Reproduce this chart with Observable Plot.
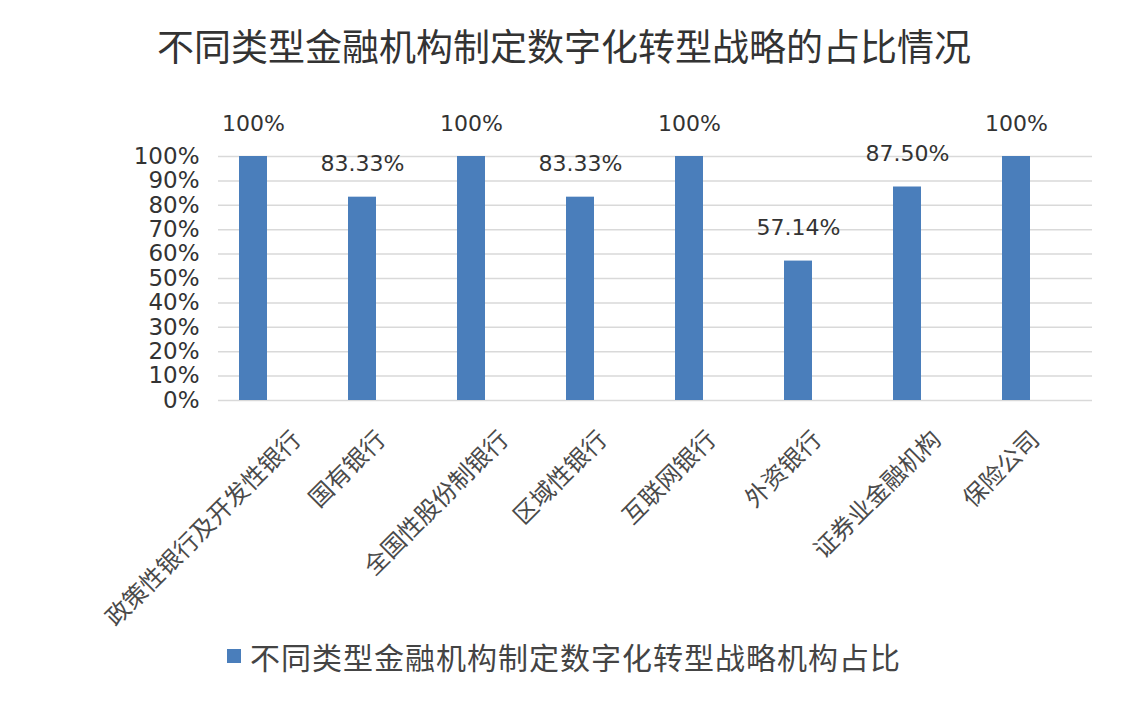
<!DOCTYPE html>
<html>
<head>
<meta charset="utf-8">
<script src="https://cdn.jsdelivr.net/npm/d3@7"></script>
<script src="https://cdn.jsdelivr.net/npm/@observablehq/plot@0.6"></script>
<style>
  html, body { margin: 0; padding: 0; background: #fff; }
  #wrap { width: 1128px; height: 706px; overflow: hidden; background: #fff; }
  #title { height: 90px; line-height: 90px; text-align: center; font-family: "Noto Sans CJK SC", sans-serif; font-size: 37px; color: #333; }
  #legend { height: 52px; display: flex; align-items: center; justify-content: center; font-family: "Noto Sans CJK SC", sans-serif; font-size: 30px; color: #444; letter-spacing: 1px; }
  #legend .sw { width: 14px; height: 14px; margin-right: 9px; }
  #chart svg { display: block; }
</style>
</head>
<body>
<div id="wrap">
  <div id="title"></div>
  <div id="chart"></div>
  <div id="legend"><span class="sw"></span><span id="legtext"></span></div>
</div>
<script>
const title = "不同类型金融机构制定数字化转型战略的占比情况";
const seriesName = "不同类型金融机构制定数字化转型战略机构占比";
const categories = ["政策性银行及开发性银行", "国有银行", "全国性股份制银行", "区域性银行", "互联网银行", "外资银行", "证券业金融机构", "保险公司"];
const values = [100, 83.33, 100, 83.33, 100, 57.14, 87.5, 100];
const valueLabels = ["100%", "83.33%", "100%", "83.33%", "100%", "57.14%", "87.50%", "100%"];
const yTicks = [0, 10, 20, 30, 40, 50, 60, 70, 80, 90, 100];
const barColor = "#4a7ebb";

const data = categories.map((c, i) => ({cat: c, value: values[i], label: valueLabels[i]}));

document.getElementById("title").textContent = title;
document.getElementById("legtext").textContent = seriesName;
document.querySelector("#legend .sw").style.background = barColor;

const chart = Plot.plot({
  width: 1128,
  height: 540,
  marginLeft: 198,
  marginRight: 56,
  marginTop: 66,
  marginBottom: 230,
  style: {fontFamily: "DejaVu Sans", background: "white", overflow: "visible"},
  x: {domain: categories, paddingInner: 0.74, paddingOuter: 0.37, axis: null},
  y: {domain: [0, 100], axis: null},
  marks: [
    Plot.ruleY(yTicks, {y: d => d, dx: 20, stroke: "#d9d9d9", strokeWidth: 1.5}),
    Plot.barY(data, {x: "cat", y: "value", fill: barColor}),
    Plot.text(data, {x: "cat", y: "value", text: "label", dy: -33, lineAnchor: "middle", fontSize: 22, fill: "#333"}),
    Plot.axisY({ticks: yTicks, label: null, tickSize: 0, tickPadding: 0, dx: 1, tickFormat: d => d + "%", fontSize: 23, color: "#333"}),
    Plot.text(categories, {x: d => d, frameAnchor: "bottom", dy: 35, rotate: -45, textAnchor: "end", lineAnchor: "middle",
      fontSize: 24, fontFamily: "Noto Sans CJK SC", fill: "#4a4a4a"})
  ]
});
document.getElementById("chart").appendChild(chart);

// Excel-style offset of rotated category labels, grows with label length
d3.select(chart).selectAll("text").filter(function() { return categories.includes(this.textContent); })
  .each(function() {
    const len = this.textContent.length;
    const s = 3.5 * len + 5;
    const t = this.getAttribute("transform") || "";
    this.setAttribute("transform", `translate(${s},0) ` + t);
  });
</script>
</body>
</html>
